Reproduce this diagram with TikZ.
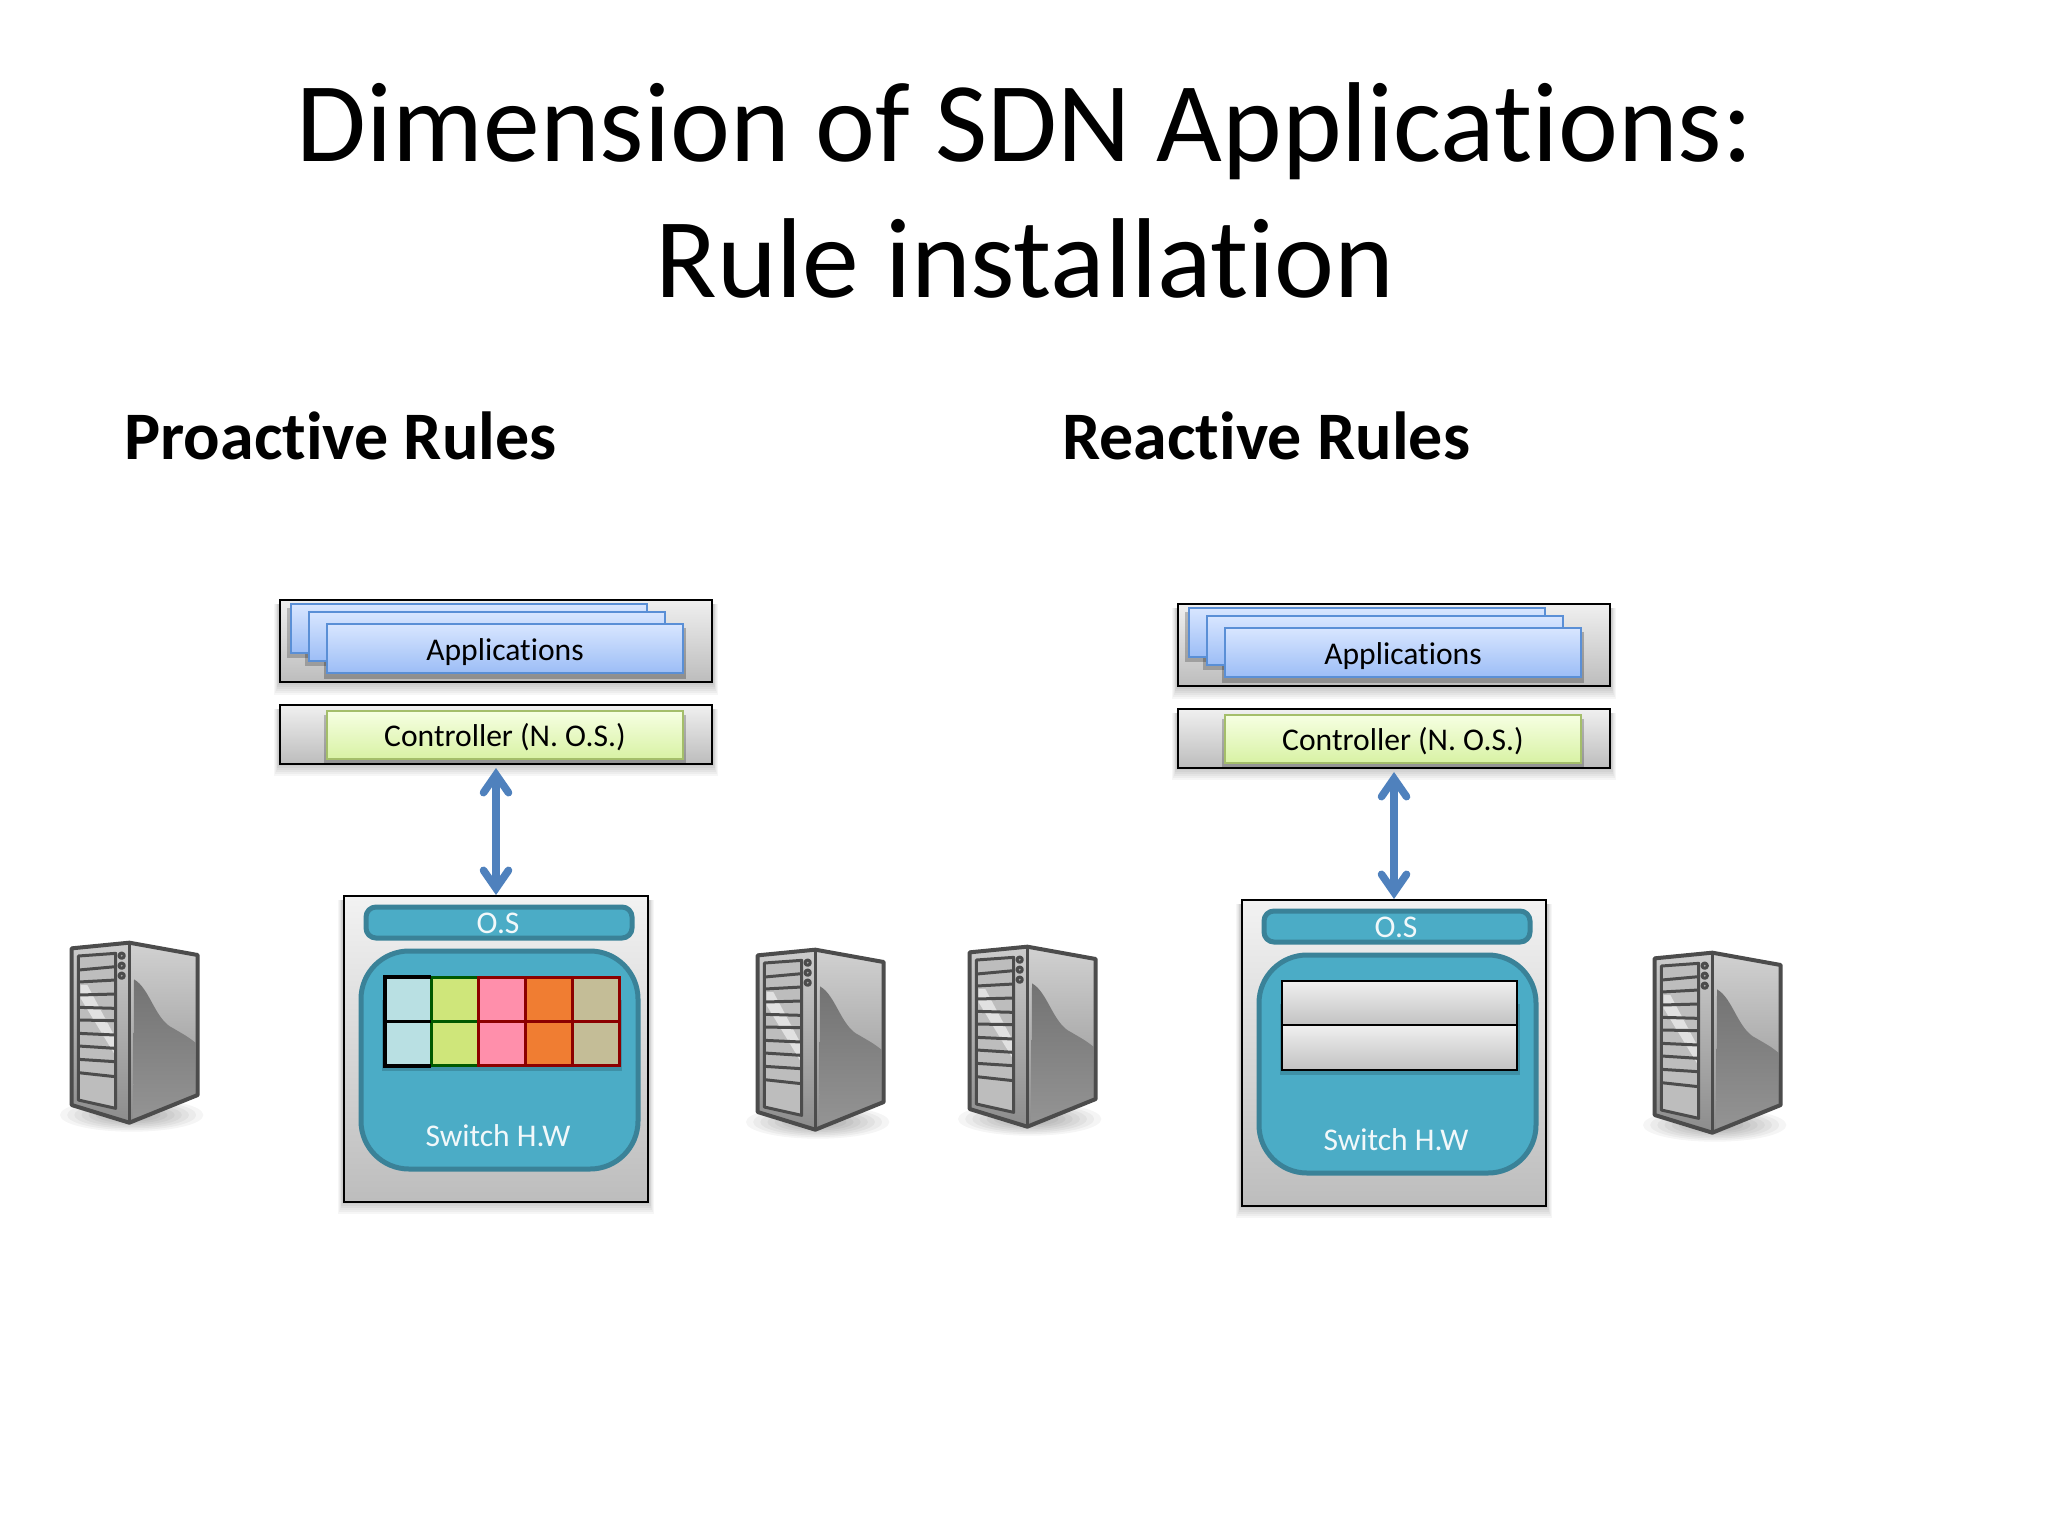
\documentclass[tikz,border=0pt]{standalone}
\usepackage{fontspec}
\setmainfont[Ligatures=NoCommon]{Carlito}
\usetikzlibrary{arrows.meta,fit,calc}
\definecolor{teal1}{HTML}{4BACC6}
\definecolor{teal2}{HTML}{3A8298}
\definecolor{cardline}{HTML}{5A8FD6}
\definecolor{arrowblue}{HTML}{4F81BD}
\definecolor{CF}{HTML}{D8E6FF}
\definecolor{CB}{HTML}{9CBDF6}
\definecolor{CTa}{HTML}{F6FFE2}
\definecolor{CTb}{HTML}{D8F2A4}
\definecolor{CTl}{HTML}{A4BE6A}
\tikzset{
  x=0.5pt,y=-0.5pt,
  box/.style={fit={#1},inner sep=0pt,outer sep=0pt},
  graybox/.style={draw=black,line width=1.1pt,top color=#1,bottom color=black!26},
  graybox/.default=black!6,
  card/.style={draw=cardline,line width=1.25pt,top color=CF,bottom color=CB},
  ctrlbox/.style={draw=CTl,line width=1.25pt,top color=CTa,bottom color=CTb},
  tealpanel/.style={draw=teal2,fill=teal1,line width=2.5pt,rounded corners=#1},
  lbl/.style={anchor=base,inner sep=0pt,font=\fontsize{15.8}{19}\selectfont},
  wlbl/.style={lbl,text=white!92!teal1},
  head/.style={anchor=base west,inner sep=0pt,font=\fontsize{34}{40}\selectfont\bfseries},
  titletext/.style={anchor=base,inner sep=0pt,font=\fontsize{56.8}{68}\selectfont},
  dbl/.style={draw=arrowblue,line width=3.8pt,line cap=round,{Straight Barb[length=9pt,width=12.5pt,line cap=round]}-{Straight Barb[length=9pt,width=12.5pt,line cap=round]}},
  cell/.style={draw=#1,line width=1.5pt,inner sep=0pt,outer sep=0pt,minimum width=23.5pt,minimum height=22pt},
  srv/.style={draw=black!70,line width=1.5pt,line join=round},
}
\newcommand{\softbox}[4]{%
  \foreach \e in {12,10,8,6,4,2}{\fill[black,opacity=.035] ({#1-\e*.4},{#2+4}) rectangle ({#3+\e*.4},{#4+\e});}}
\newcommand{\sdnstack}[1]{%
  \softbox{279}{600}{713}{683}
  \softbox{279}{705}{713}{764}
  \softbox{343}{896}{649}{1202}
  \node[box={(280,600)(712,682)},graybox] (#1apps) {};
  \node[box={(280,705)(712,764)},graybox] (#1ctrl) {};
  \fill[black,opacity=.22] (287,608) rectangle (643,658);
  \fill[black,opacity=.22] (305,616) rectangle (661,666);
  \fill[black,opacity=.25] (324,628) rectangle (686,679);
  \fill[black,opacity=.22] (324,715) rectangle (686,764);
  \node[box={(291,604)(647,653)},card] (#1carda) {};
  \node[box={(309,612)(665,661)},card] (#1cardb) {};
  \node[box={(327,624)(683,673)},card] (#1cardc) {};
  \node[box={(327,711)(683,759)},ctrlbox] (#1ctrlin) {};
  \node[lbl] (#1appt) at (505,660) {Applications};
  \node[lbl] (#1ctrlt) at (505,746) {Controller (N. O.S.)};
  \node[box={(344,896)(648,1202)},graybox=black!5] (#1sw) {};
  \node[box={(366,907)(632,938)},tealpanel=5pt] (#1os) {};
  \node[box={(361,951)(638,1169)},tealpanel=24pt] (#1hw) {};
  \node[wlbl] (#1ost) at (498,933) {O.S};
  \node[wlbl] (#1hwt) at (498,1146) {Switch H.W};
  \fill[black,opacity=.16] (382,1000) rectangle (622,1071);
  \draw[dbl] ([yshift=-2pt]#1ctrl.south) -- ([yshift=0.5pt]#1sw.north);
}
\newcommand{\serverdraw}[2]{%
 \begin{scope}[shift={(#1,#2)},x=0.16667pt,y=-0.16667pt]
  \foreach \e in {1,.9,.8,.7,.6,.5,.4,.3}{\fill[black,opacity=.04] (245,585) ellipse ({215*\e} and {50*\e});}
  \shade[top color=black!20,bottom color=black!45] (65,85) -- (238,68) -- (238,608) -- (65,555) -- cycle;
  \shade[top color=black!18,bottom color=black!45] (238,68) -- (443,105) -- (443,525) -- (238,608) -- cycle;
  \shade[top color=black!55,bottom color=black!42] (252,178) .. controls (300,205) and (315,300) .. (370,325) .. controls (395,340) and (415,350) .. (436,368) -- (436,523) -- (250,596) -- cycle;
  \fill[black!26] (85,108) -- (197,100) -- (197,565) -- (85,540) -- cycle;
  \fill[white,opacity=.55] (92,195) -- (112,195) -- (192,345) -- (192,400) -- (92,235) -- cycle;
  \foreach \ya/\yb in {150/140,186/180,225/222,262/265,300/302,340/345,378/385,418/425,458/470}
    \draw[srv] (86,\ya) -- (196,\yb);
  \draw[srv] (85,108) -- (197,100) -- (197,565) -- (85,540) -- cycle;
  \foreach \yc in {107,137,167}\draw[srv,fill=black!35] (215,\yc) circle (8);
  \draw[srv,line width=2pt] (65,85) -- (238,68) -- (443,105) -- (443,525) -- (238,608) -- (65,555) -- cycle;
  \draw[srv,line width=1.8pt] (238,68) -- (238,608);
 \end{scope}}
\begin{document}
\begin{tikzpicture}
\useasboundingbox (0,0) rectangle (2048,1536);
\fill[white] (0,0) rectangle (2048,1536);
\node[titletext] (t1) at (1025,161) {Dimension of SDN Applications:};
\node[titletext] (t2) at (1025,297) {Rule installation};
\node[head] (hl) at (124,459) {Proactive Rules};
\node[head] (hr) at (1062,459) {Reactive Rules};

\sdnstack{l}
\foreach \cl/\fc/\dc/\xx in {a/B9E0E3/black/407.5,b/CFE67A/green!35!black/454.5,c/FF8FAB/red!55!black/501.5,d/F07D32/red!55!black/548.5,e/C4BD97/red!55!black/596}{
  \definecolor{cc}{HTML}{\fc}
  \node[cell=\dc,fill=cc] (r1\cl) at (\xx,999) {};
  \node[cell=\dc,fill=cc] (r2\cl) at (\xx,1043) {};
}
\draw[black,line width=2pt] (431,977) -- (385,977) -- (385,1066) -- (431,1066);
\draw[black,line width=1.5pt] (385,1021) -- (431,1021);

\begin{scope}[shift={(898,4)}]
\sdnstack{r}
\node[box={(384,977)(619,1021)},draw=black,line width=1.2pt,top color=black!6,bottom color=black!24] (t1r) {};
\node[box={(384,1021)(619,1066)},draw=black,line width=1.2pt,top color=black!6,bottom color=black!24] (t2r) {};
\end{scope}

\serverdraw{50}{920}
\serverdraw{736}{927}
\serverdraw{948}{924}
\serverdraw{1633}{930}
\end{tikzpicture}
\end{document}
